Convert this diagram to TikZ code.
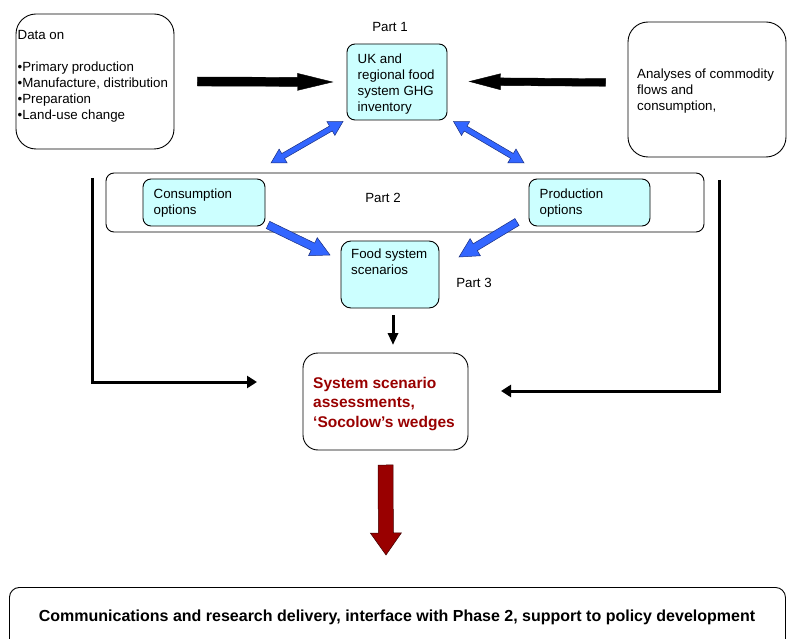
\documentclass[tikz,border=0pt]{standalone}
\usepackage{fontspec}
\setmainfont{Liberation Sans}
\usetikzlibrary{calc,arrows.meta}
\definecolor{cyanfill}{HTML}{CCFFFF}
\definecolor{bluefill}{HTML}{3366FF}
\definecolor{blueline}{HTML}{1A2F80}
\definecolor{darkred}{HTML}{990000}
% #1 style, #2 start, #3 end, #4 half shaft, #5 half head, #6 head length, #7 id
\newcommand\fatarrow[7]{%
  \coordinate (#7h) at ($(#3)!#6!(#2)$);
  \draw[#1] ($(#2)!#4!90:(#3)$) -- ($(#7h)!#4!90:(#3)$) -- ($(#7h)!#5!90:(#3)$) -- (#3)
    -- ($(#7h)!#5!-90:(#3)$) -- ($(#7h)!#4!-90:(#3)$) -- ($(#2)!#4!-90:(#3)$) -- cycle;}
\newcommand\fatdarrow[7]{%
  \coordinate (#7a) at ($(#2)!#6!(#3)$);
  \coordinate (#7b) at ($(#3)!#6!(#2)$);
  \draw[#1] (#2) -- ($(#7a)!#5!90:(#3)$) -- ($(#7a)!#4!90:(#3)$) -- ($(#7b)!#4!90:(#3)$)
    -- ($(#7b)!#5!90:(#3)$) -- (#3) -- ($(#7b)!#5!-90:(#3)$) -- ($(#7b)!#4!-90:(#3)$)
    -- ($(#7a)!#4!-90:(#3)$) -- ($(#7a)!#5!-90:(#3)$) -- cycle;}
\begin{document}
\begin{tikzpicture}[x=1pt,y=-1pt,
  box/.style={draw=black, line width=0.9pt, fill=white, inner sep=0pt},
  cbox/.style={box, fill=cyanfill},
  txt/.style={inner sep=0pt, anchor=north west, align=left, font=\fontsize{13.3}{16}\selectfont},
  lbl/.style={inner sep=0pt, font=\fontsize{13.3}{16}\selectfont},
  conn/.style={line width=3pt, -{Triangle[length=10pt,width=12pt]}},
  downarr/.style={line width=3pt, -{Triangle[length=12pt,width=10pt]}},
  bluearr/.style={fill=bluefill, draw=blueline, line width=0.5pt, line join=miter},
  blackarr/.style={fill=black, draw=black, line width=0.4pt},
  redarr/.style={fill=darkred, draw=black!60!darkred, line width=0.5pt}]

\clip (0,0) rectangle (787,639);
\fill[white] (0,0) rectangle (787,639);

% top row
\node[box, rounded corners=20pt, minimum width=158pt, minimum height=135pt] (data) at (95,81.5) {};
\node[txt] (datatxt) at (17.5,30.3) {Data on\\[16pt]•Primary production\\•Manufacture, distribution\\•Preparation\\•Land-use change};

\node[box, rounded corners=20pt, minimum width=158pt, minimum height=135pt] (anal) at (707,89.5) {};
\node[txt] (analtxt) at (637,68.3) {Analyses of commodity\\flows and\\consumption,};

\node[cbox, rounded corners=8pt, minimum width=100pt, minimum height=76pt] (uk) at (397,82) {};
\node[txt] (uktxt) at (357.5,53.2) {UK and\\regional food\\system GHG\\inventory};
\node[lbl] (p1) at (390,27) {Part 1};

% part 2 container
\node[box, rounded corners=8pt, minimum width=598pt, minimum height=59pt] (part2) at (405,202.5) {};
\node[cbox, rounded corners=8pt, minimum width=122pt, minimum height=47pt] (cons) at (204,202.5) {};
\node[txt] (constxt) at (153.5,188.3) {Consumption\\options};
\node[cbox, rounded corners=8pt, minimum width=121pt, minimum height=47pt] (prod) at (589.5,202.5) {};
\node[txt] (prodtxt) at (539.5,188.3) {Production\\options};
\node[lbl] (p2) at (383,198) {Part 2};

% part 3
\node[cbox, rounded corners=10pt, minimum width=98pt, minimum height=67pt] (food) at (390,274.5) {};
\node[txt] (foodtxt) at (351,248.3) {Food system\\scenarios};
\node[lbl] (p3) at (474,283) {Part 3};

% assessment
\node[box, rounded corners=15pt, minimum width=165pt, minimum height=97pt] (sys) at (385.5,401.5) {};
\node[txt, font=\bfseries\fontsize{15.5}{19.5}\selectfont, text=darkred] (systxt) at (313,377) {System scenario\\assessments,\\‘Socolow’s wedges};

% bottom
\node[box, rounded corners=10pt, minimum width=776pt, minimum height=80pt, anchor=north west] (comm) at (9,587) {};
\node[inner sep=0pt, font=\bfseries\fontsize{16}{18}\selectfont] (commtxt) at (397,617) {Communications and research delivery, interface with Phase 2, support to policy development};

% black fat arrows
\coordinate (a1s) at ([xshift=23pt]data.east);
\coordinate (a1e) at ([xshift=-14pt]uk.west);
\fatarrow{blackarr}{a1s}{a1e}{4.5pt}{8.5pt}{35pt}{a1}
\coordinate (a2s) at ([xshift=-22pt,yshift=7pt]anal.west);
\coordinate (a2e) at ([xshift=22pt,yshift=0.5pt]uk.east);
\fatarrow{blackarr}{a2s}{a2e}{3.8pt}{8pt}{31pt}{a2}

% blue double arrows
\coordinate (b1s) at (271,163);
\coordinate (b1e) at (343,121.5);
\fatdarrow{bluearr}{b1s}{b1e}{2.8pt}{8pt}{14pt}{b1}
\coordinate (b2s) at (453.5,121.5);
\coordinate (b2e) at (524,163);
\fatdarrow{bluearr}{b2s}{b2e}{2.8pt}{8pt}{14pt}{b2}

% blue single arrows
\coordinate (b3s) at (268,225);
\coordinate (b3e) at (330,255);
\fatarrow{bluearr}{b3s}{b3e}{4pt}{10pt}{19pt}{b3}
\coordinate (b4s) at (517,222);
\coordinate (b4e) at (459,257);
\fatarrow{bluearr}{b4s}{b4e}{4pt}{10pt}{19pt}{b4}

% small down arrow
\coordinate (ds) at (393,315);
\coordinate (de) at (393,345);
\draw[downarr] (ds) -- (de);

% L connectors
\coordinate (lt) at (92,178);
\coordinate (lb) at (257,382);
\draw[conn] (lt) |- (lb);
\coordinate (rt) at (719,180);
\coordinate (rb) at (501,391);
\draw[conn] (rt) |- (rb);

% red arrow
\coordinate (rs) at (385.5,465);
\coordinate (re) at (386,555);
\fatarrow{redarr}{rs}{re}{7.5pt}{15.5pt}{22pt}{r}
\end{tikzpicture}
\end{document}
